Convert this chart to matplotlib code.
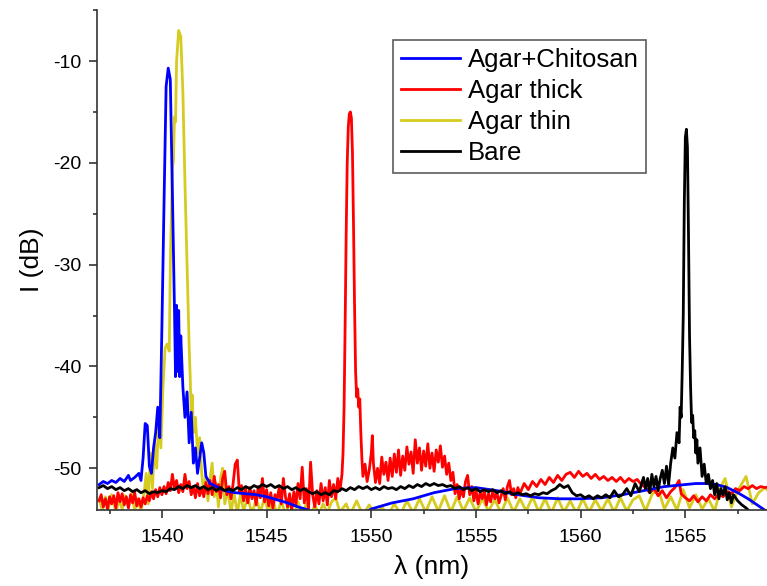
import matplotlib
matplotlib.use("Agg")
import matplotlib.pyplot as plt
from matplotlib.ticker import MultipleLocator

plt.rcParams["font.family"] = ["Liberation Sans", "DejaVu Sans"]
plt.rcParams["axes.unicode_minus"] = False

# Agar+Chitosan (blue)
chit_x = [1537.0, 1537.2, 1537.4, 1537.6, 1537.8, 1538.0, 1538.2, 1538.4, 1538.5, 1538.7,
          1538.9, 1539.0, 1539.1, 1539.2, 1539.3, 1539.4, 1539.5, 1539.6, 1539.7, 1539.8,
          1539.9, 1540.0, 1540.1, 1540.2, 1540.3, 1540.4, 1540.5, 1540.6, 1540.65, 1540.7,
          1540.75, 1540.8, 1540.85, 1540.9, 1541.0, 1541.1, 1541.2, 1541.3, 1541.4, 1541.5,
          1541.6, 1541.7, 1541.8, 1541.9, 1542.0, 1542.1, 1542.3, 1542.6, 1543.0, 1543.5,
          1544.0, 1544.5, 1545.0, 1545.5, 1546.0, 1546.5, 1547.0, 1547.5, 1548.5, 1549.5,
          1550.0, 1551.0, 1552.0, 1553.0, 1554.0, 1555.0, 1556.0, 1557.0, 1558.0, 1559.0,
          1560.0, 1561.0, 1562.0, 1563.0, 1564.0, 1565.0, 1565.5, 1566.0, 1566.5, 1567.0,
          1567.5, 1568.0, 1568.5, 1569.0]
chit_y = [-51.6, -51.3, -51.5, -51.2, -51.4, -51.0, -51.3, -50.7, -51.2, -50.9,
          -50.5, -51.2, -49.0, -45.6, -45.8, -49.8, -50.5, -48.0, -46.5, -44.0,
          -47.0, -36.0, -24.0, -12.5, -10.7, -11.8, -23.0, -34.5, -41.0, -34.0,
          -40.5, -34.5, -41.0, -37.0, -42.0, -45.0, -42.5, -47.5, -44.5, -49.5,
          -48.0, -50.5, -49.0, -47.5, -48.5, -50.8, -51.5, -51.8, -52.2, -52.4,
          -52.5, -52.6, -52.8, -53.1, -53.4, -53.8, -54.1, -54.6, -55.0, -54.6,
          -54.0, -53.4, -53.0, -52.4, -52.0, -51.9, -52.2, -52.6, -52.9, -53.0,
          -53.0, -52.9, -52.6, -52.2, -51.8, -51.6, -51.5, -51.5, -51.6, -51.9,
          -52.4, -53.0, -53.7, -54.4]

# Agar thick (red)
thick_x = [1537.0, 1537.1, 1537.2, 1537.3, 1537.4, 1537.5, 1537.6, 1537.7, 1537.8, 1537.9,
           1538.0, 1538.1, 1538.2, 1538.3, 1538.4, 1538.5, 1538.6, 1538.7, 1538.8, 1538.9,
           1539.0, 1539.1, 1539.2, 1539.3, 1539.4, 1539.5, 1539.6, 1539.7, 1539.8, 1539.9,
           1540.0, 1540.1, 1540.2, 1540.3, 1540.4, 1540.5, 1540.6, 1540.7, 1540.8, 1540.9,
           1541.0, 1541.1, 1541.2, 1541.3, 1541.4, 1541.5, 1541.6, 1541.7, 1541.8, 1541.9,
           1542.0, 1542.1, 1542.2, 1542.3, 1542.4, 1542.5, 1542.6, 1542.7, 1542.8, 1542.9,
           1543.0, 1543.1, 1543.2, 1543.3, 1543.4, 1543.5, 1543.6, 1543.7, 1543.8, 1543.9,
           1544.0, 1544.1, 1544.2, 1544.3, 1544.4, 1544.5, 1544.6, 1544.7, 1544.8, 1544.9,
           1545.0, 1545.1, 1545.2, 1545.3, 1545.4, 1545.5, 1545.6, 1545.7, 1545.8, 1545.9,
           1546.0, 1546.1, 1546.2, 1546.3, 1546.4, 1546.5, 1546.6, 1546.7, 1546.8, 1546.9,
           1547.0, 1547.1, 1547.2, 1547.3, 1547.4, 1547.5, 1547.6, 1547.7, 1547.8, 1547.9,
           1548.0, 1548.1, 1548.2, 1548.3, 1548.4, 1548.5, 1548.6, 1548.65, 1548.7, 1548.75,
           1548.8, 1548.85, 1548.9, 1548.95, 1549.0, 1549.05, 1549.1, 1549.15, 1549.2, 1549.25,
           1549.3, 1549.35, 1549.4, 1549.45, 1549.5, 1549.55, 1549.6, 1549.7, 1549.8, 1549.9,
           1550.0, 1550.05, 1550.1, 1550.2, 1550.3, 1550.4, 1550.5, 1550.6, 1550.7, 1550.8,
           1550.9, 1551.0, 1551.1, 1551.2, 1551.3, 1551.4, 1551.5, 1551.6, 1551.7, 1551.8,
           1551.9, 1552.0, 1552.1, 1552.2, 1552.3, 1552.4, 1552.5, 1552.6, 1552.7, 1552.8,
           1552.9, 1553.0, 1553.1, 1553.2, 1553.3, 1553.4, 1553.5, 1553.6, 1553.7, 1553.8,
           1553.9, 1554.0, 1554.1, 1554.2, 1554.3, 1554.4, 1554.5, 1554.6, 1554.7, 1554.8,
           1554.9, 1555.0, 1555.1, 1555.2, 1555.3, 1555.4, 1555.5, 1555.6, 1555.7, 1555.8,
           1555.9, 1556.0, 1556.1, 1556.2, 1556.3, 1556.4, 1556.5, 1556.6, 1556.7, 1556.8,
           1556.9, 1557.0, 1557.1, 1557.3, 1557.5, 1557.7, 1557.9, 1558.1, 1558.3, 1558.5,
           1558.7, 1558.9, 1559.1, 1559.3, 1559.5, 1559.7, 1559.9, 1560.1, 1560.3, 1560.5,
           1560.7, 1560.9, 1561.1, 1561.3, 1561.5, 1561.7, 1561.9, 1562.1, 1562.3, 1562.5,
           1562.7, 1562.9, 1563.1, 1563.3, 1563.5, 1563.7, 1563.9, 1564.1, 1564.3, 1564.5,
           1564.7, 1564.8, 1565.0, 1565.2, 1565.4, 1565.6, 1565.8, 1566.0, 1566.2, 1566.4,
           1566.6, 1566.8, 1567.0, 1567.2, 1567.4, 1567.6, 1567.8, 1568.0, 1568.2, 1568.4,
           1568.6, 1568.8, 1569.0]
thick_y = [-53.2, -52.6, -53.8, -53.0, -54.0, -52.8, -53.5, -52.7, -53.9, -52.4,
           -53.3, -52.5, -53.6, -52.8, -53.9, -52.6, -53.4, -52.4, -53.7, -53.0,
           -53.8, -52.9, -53.5, -52.7, -53.2, -52.3, -53.0, -52.1, -52.8, -51.9,
           -52.6, -51.8, -52.5, -51.4, -52.2, -50.6, -52.0, -51.2, -52.4, -51.6,
           -52.3, -50.6, -52.0, -51.3, -52.6, -51.8, -52.9, -51.5, -52.7, -51.9,
           -52.8, -51.4, -52.5, -51.2, -52.6, -50.8, -52.3, -51.6, -52.9, -51.0,
           -50.3, -52.6, -51.8, -53.0, -51.5, -49.6, -49.2, -52.4, -51.7, -53.2,
           -52.0, -53.4, -51.9, -53.0, -52.2, -53.6, -51.8, -52.9, -51.0, -53.3,
           -52.1, -53.7, -52.4, -53.9, -52.6, -53.1, -51.9, -53.5, -51.0, -52.8,
           -53.8, -52.5, -54.2, -52.3, -53.6, -51.5, -53.0, -49.9, -53.4, -52.0,
           -54.0, -49.4, -52.6, -53.8, -52.2, -53.5, -51.5, -53.2, -51.9, -53.6,
           -51.2, -52.8, -51.6, -53.0, -51.0, -52.2, -50.6, -48.5, -44.0, -36.0,
           -27.0, -20.0, -16.5, -15.2, -15.0, -15.6, -19.0, -26.0, -34.0, -40.5,
           -43.0, -42.2, -44.0, -43.2, -46.5, -49.0, -50.8, -49.6, -51.3, -50.2,
           -48.5, -46.8, -49.5, -51.4, -50.0, -51.5, -48.9, -50.6, -49.4, -51.2,
           -49.0, -50.8, -48.6, -50.4, -48.2, -50.7, -48.8, -50.2, -47.9, -49.6,
           -48.4, -50.5, -47.2, -49.5, -48.0, -50.2, -48.3, -49.8, -47.6, -50.0,
           -48.5, -50.3, -48.2, -49.4, -47.8, -49.9, -48.8, -50.6, -49.5, -51.2,
           -50.4, -52.5, -51.6, -53.0, -52.0, -52.8, -51.3, -50.7, -52.6, -51.8,
           -53.2, -52.1, -53.5, -52.4, -53.0, -52.2, -53.6, -52.5, -53.3, -52.3,
           -53.0, -52.4, -53.4, -52.7, -52.0, -53.1, -51.8, -51.2, -52.6, -52.0,
           -52.9, -51.9, -52.5, -51.5, -52.1, -51.3, -51.8, -51.1, -51.6, -50.9,
           -51.4, -50.7, -51.2, -50.6, -50.4, -50.9, -50.3, -50.8, -50.5, -51.0,
           -50.6, -51.1, -50.8, -51.2, -50.9, -51.3, -50.9, -51.4, -51.0, -51.3,
           -51.1, -51.6, -51.9, -52.4, -52.0, -52.7, -52.2, -52.9, -52.3, -51.9,
           -51.2, -52.5, -52.9, -53.2, -52.7, -53.3, -52.8, -53.2, -52.6, -53.0,
           -52.5, -52.8, -52.3, -52.5, -52.0, -52.2, -51.8, -52.0, -51.7, -52.0,
           -51.8, -51.9, -51.8]

# Agar thin (yellow)
thin_x = [1537.0, 1537.15, 1537.3, 1537.45, 1537.6, 1537.8, 1537.95, 1538.1, 1538.25, 1538.4,
          1538.55, 1538.7, 1538.85, 1539.0, 1539.15, 1539.25, 1539.35, 1539.45, 1539.55, 1539.65,
          1539.75, 1539.85, 1539.95, 1540.05, 1540.15, 1540.25, 1540.35, 1540.4, 1540.5, 1540.55,
          1540.6, 1540.65, 1540.7, 1540.8, 1540.9, 1541.0, 1541.1, 1541.2, 1541.3, 1541.35,
          1541.4, 1541.45, 1541.5, 1541.6, 1541.7, 1541.8, 1541.9, 1542.0, 1542.1, 1542.2,
          1542.3, 1542.4, 1542.5, 1542.6, 1542.7, 1542.8, 1542.9, 1543.0, 1543.15, 1543.3,
          1543.45, 1543.6, 1543.75, 1543.9, 1544.1, 1544.3, 1544.5, 1544.7, 1544.9, 1545.1,
          1545.3, 1545.5, 1545.7, 1545.9, 1546.1, 1546.3, 1546.5, 1546.7, 1546.9, 1547.1,
          1547.3, 1547.5, 1547.7, 1547.9, 1548.1, 1548.3, 1548.5, 1548.8, 1549.0, 1549.3,
          1549.6, 1549.9, 1550.2, 1550.5, 1550.8, 1551.1, 1551.4, 1551.7, 1552.0, 1552.3,
          1552.6, 1552.9, 1553.2, 1553.5, 1553.8, 1554.1, 1554.4, 1554.7, 1555.0, 1555.3,
          1555.6, 1555.9, 1556.2, 1556.5, 1556.8, 1557.1, 1557.4, 1557.7, 1558.0, 1558.3,
          1558.6, 1558.9, 1559.2, 1559.5, 1559.8, 1560.1, 1560.4, 1560.7, 1561.0, 1561.3,
          1561.6, 1561.9, 1562.2, 1562.5, 1562.8, 1563.1, 1563.4, 1563.7, 1564.0, 1564.3,
          1564.6, 1564.9, 1565.2, 1565.5, 1565.8, 1566.1, 1566.4, 1566.7, 1566.9, 1567.2,
          1567.5, 1567.9, 1568.2, 1568.5, 1568.8, 1569.0]
thin_y = [-53.0, -54.2, -52.8, -53.9, -52.6, -54.3, -53.1, -54.0, -52.7, -53.8,
          -52.5, -54.1, -53.0, -54.3, -52.4, -50.5, -53.5, -48.5, -52.0, -47.5,
          -50.0, -45.0, -48.0, -42.0, -38.2, -37.8, -38.5, -30.0, -20.5, -19.8,
          -15.5, -16.0, -10.0, -7.0, -7.6, -13.0, -22.0, -30.0, -38.0, -41.0,
          -45.0, -42.8, -46.5, -45.0, -48.5, -47.0, -50.5, -52.5, -50.8, -53.2,
          -51.0, -49.5, -52.8, -51.5, -53.8, -51.0, -50.0, -53.5, -52.2, -54.3,
          -52.5, -54.4, -52.6, -54.2, -52.8, -54.5, -53.0, -54.3, -52.9, -54.5,
          -53.1, -54.6, -53.2, -54.5, -53.4, -54.6, -53.3, -54.5, -53.5, -54.6,
          -53.6, -54.5, -53.5, -54.4, -53.3, -52.9, -54.3, -53.5, -54.5, -53.2,
          -54.6, -53.6, -54.7, -53.8, -54.6, -53.5, -54.5, -53.2, -54.4, -53.0,
          -54.3, -52.8, -54.2, -52.7, -54.3, -52.8, -54.2, -52.9, -54.3, -53.0,
          -54.2, -53.1, -54.4, -52.9, -54.3, -53.0, -54.2, -52.8, -54.3, -53.0,
          -54.4, -52.9, -54.3, -53.2, -54.4, -53.0, -54.3, -53.1, -54.2, -53.0,
          -54.3, -52.9, -54.2, -53.1, -52.7, -54.2, -52.6, -52.0, -54.0, -52.8,
          -54.1, -52.1, -53.9, -52.6, -54.0, -53.0, -54.2, -51.8, -51.0, -53.8,
          -52.2, -50.8, -53.5, -52.4, -51.9, -52.3]

# Bare (black)
bare_x = [1537.0, 1537.2, 1537.4, 1537.6, 1537.8, 1538.0, 1538.2, 1538.4, 1538.6, 1538.8,
          1539.0, 1539.2, 1539.4, 1539.6, 1539.8, 1540.0, 1540.2, 1540.4, 1540.6, 1540.8,
          1541.0, 1541.2, 1541.4, 1541.6, 1541.8, 1542.0, 1542.2, 1542.4, 1542.6, 1542.8,
          1543.0, 1543.2, 1543.4, 1543.6, 1543.8, 1544.0, 1544.2, 1544.4, 1544.6, 1544.8,
          1545.0, 1545.2, 1545.4, 1545.6, 1545.8, 1546.0, 1546.2, 1546.4, 1546.6, 1546.8,
          1547.0, 1547.2, 1547.4, 1547.6, 1547.8, 1548.0, 1548.2, 1548.4, 1548.6, 1548.8,
          1549.0, 1549.2, 1549.4, 1549.6, 1549.8, 1550.0, 1550.2, 1550.4, 1550.6, 1550.8,
          1551.0, 1551.2, 1551.4, 1551.6, 1551.8, 1552.0, 1552.2, 1552.4, 1552.6, 1552.8,
          1553.0, 1553.2, 1553.4, 1553.6, 1553.8, 1554.0, 1554.2, 1554.4, 1554.6, 1554.8,
          1555.0, 1555.2, 1555.4, 1555.6, 1555.8, 1556.0, 1556.2, 1556.4, 1556.6, 1556.8,
          1557.0, 1557.2, 1557.4, 1557.6, 1557.8, 1558.0, 1558.2, 1558.4, 1558.6, 1558.8,
          1559.0, 1559.2, 1559.4, 1559.6, 1559.8, 1560.0, 1560.2, 1560.4, 1560.6, 1560.8,
          1561.0, 1561.2, 1561.4, 1561.6, 1561.8, 1562.0, 1562.2, 1562.4, 1562.6, 1562.8,
          1563.0, 1563.1, 1563.2, 1563.3, 1563.4, 1563.5, 1563.6, 1563.7, 1563.8, 1563.9,
          1564.0, 1564.1, 1564.2, 1564.3, 1564.4, 1564.5, 1564.6, 1564.7, 1564.75, 1564.8,
          1564.85, 1564.9, 1564.95, 1565.0, 1565.05, 1565.1, 1565.15, 1565.2, 1565.25, 1565.3,
          1565.35, 1565.4, 1565.45, 1565.5, 1565.55, 1565.6, 1565.7, 1565.8, 1565.9, 1566.0,
          1566.1, 1566.2, 1566.3, 1566.4, 1566.5, 1566.6, 1566.7, 1566.8, 1566.9, 1567.0,
          1567.1, 1567.2, 1567.3, 1567.5, 1567.7, 1567.9, 1568.1, 1568.4]
bare_y = [-51.9, -51.7, -52.0, -51.8, -52.1, -51.9, -52.2, -52.0, -52.3, -52.1,
          -52.4, -52.2, -52.5, -52.3, -52.4, -52.2, -52.3, -52.0, -52.1, -51.8,
          -52.0, -51.7, -51.9, -51.7, -52.0, -51.8, -52.1, -51.9, -52.2, -51.9,
          -52.2, -52.0, -52.2, -51.9, -52.1, -51.8, -52.0, -51.7, -51.9, -51.6,
          -51.8, -51.6, -51.9, -51.7, -52.0, -51.8, -52.1, -51.9, -52.2, -52.0,
          -52.3, -52.5, -52.3, -52.6, -52.4, -52.6, -52.2, -52.3, -52.0, -52.2,
          -51.9, -52.1, -51.8, -52.0, -51.8, -52.1, -51.9, -52.1, -51.8, -52.0,
          -51.9, -52.1, -51.8, -52.0, -51.7, -51.9, -51.6, -51.8, -51.5, -51.7,
          -51.5, -51.7, -51.6, -51.8, -51.7, -52.0, -51.8, -52.1, -51.9, -52.2,
          -52.0, -52.3, -52.1, -52.3, -52.1, -52.4, -52.2, -52.5, -52.3, -52.6,
          -52.4, -52.6, -52.5, -52.7, -52.5, -52.6, -52.4, -52.5, -52.2, -52.0,
          -51.6, -51.9, -51.7, -52.4, -52.7, -52.6, -52.9, -52.7, -53.0, -52.7,
          -52.9, -52.6, -52.9, -52.2, -52.8, -52.6, -52.0, -52.7, -51.5, -52.3,
          -50.9, -52.0, -51.0, -52.4, -50.6, -51.8, -50.8, -52.2, -51.0, -50.2,
          -51.5, -49.8, -51.6, -49.5, -48.0, -49.0, -46.5, -47.5, -44.0, -45.0,
          -40.5, -35.0, -24.0, -17.5, -16.7, -18.5, -27.0, -37.0, -42.0, -45.5,
          -44.8, -47.0, -46.3, -48.5, -47.2, -49.5, -48.0, -50.8, -49.6, -51.5,
          -50.6, -52.0, -51.2, -52.6, -51.5, -53.0, -52.0, -52.6, -51.8, -53.1,
          -52.4, -53.4, -52.6, -53.2, -53.6, -53.9, -54.3, -54.8]

xticks = [1540, 1545, 1550, 1555, 1560, 1565]
yticks = [-10, -20, -30, -40, -50]

fig = plt.figure(figsize=(7.67, 5.86), dpi=100)
ax = fig.add_axes([0.1265, 0.1297, 0.8735, 0.853])

lw = 2.0
l_thin, = ax.plot(thin_x, thin_y, color="#d6cc1f", lw=lw, label="Agar thin")
l_thick, = ax.plot(thick_x, thick_y, color="#ff0000", lw=lw, label="Agar thick")
l_chit, = ax.plot(chit_x, chit_y, color="#0000ff", lw=lw, label="Agar+Chitosan")
l_bare, = ax.plot(bare_x, bare_y, color="black", lw=lw, label="Bare")

ax.set_xlim(1536.9, 1568.9)
ax.set_ylim(-54.1, -5)
ax.set_xticks(xticks)
ax.set_yticks(yticks)
ax.xaxis.set_minor_locator(MultipleLocator(2.5))
ax.yaxis.set_minor_locator(MultipleLocator(5))

for s in ["top", "right"]:
    ax.spines[s].set_visible(False)
for s in ["left", "bottom"]:
    ax.spines[s].set_linewidth(1.2)
    ax.spines[s].set_color("#333333")

ax.tick_params(which="major", direction="out", length=6, width=1.2, color="#333333",
               labelsize=14)
ax.tick_params(which="minor", direction="out", length=3, width=1.2, color="#333333")
ax.tick_params(axis="x", which="major", pad=8)
ax.tick_params(axis="y", which="major", pad=5)

ax.set_xlabel("λ (nm)", fontsize=19, labelpad=6)
ax.set_ylabel("I (dB)", fontsize=19, labelpad=7)

leg = ax.legend(handles=[l_chit, l_thick, l_thin, l_bare], loc="upper left",
                bbox_to_anchor=(393 / 767, 1 - 40 / 586), bbox_transform=fig.transFigure,
                fontsize=18.5, frameon=True, fancybox=False, borderaxespad=0,
                handlelength=2.3, handletextpad=0.3, labelspacing=0.28, borderpad=0.3)
leg.get_frame().set_edgecolor("#333333")
leg.get_frame().set_linewidth(1.2)

fig.savefig("out.png", dpi=100)
